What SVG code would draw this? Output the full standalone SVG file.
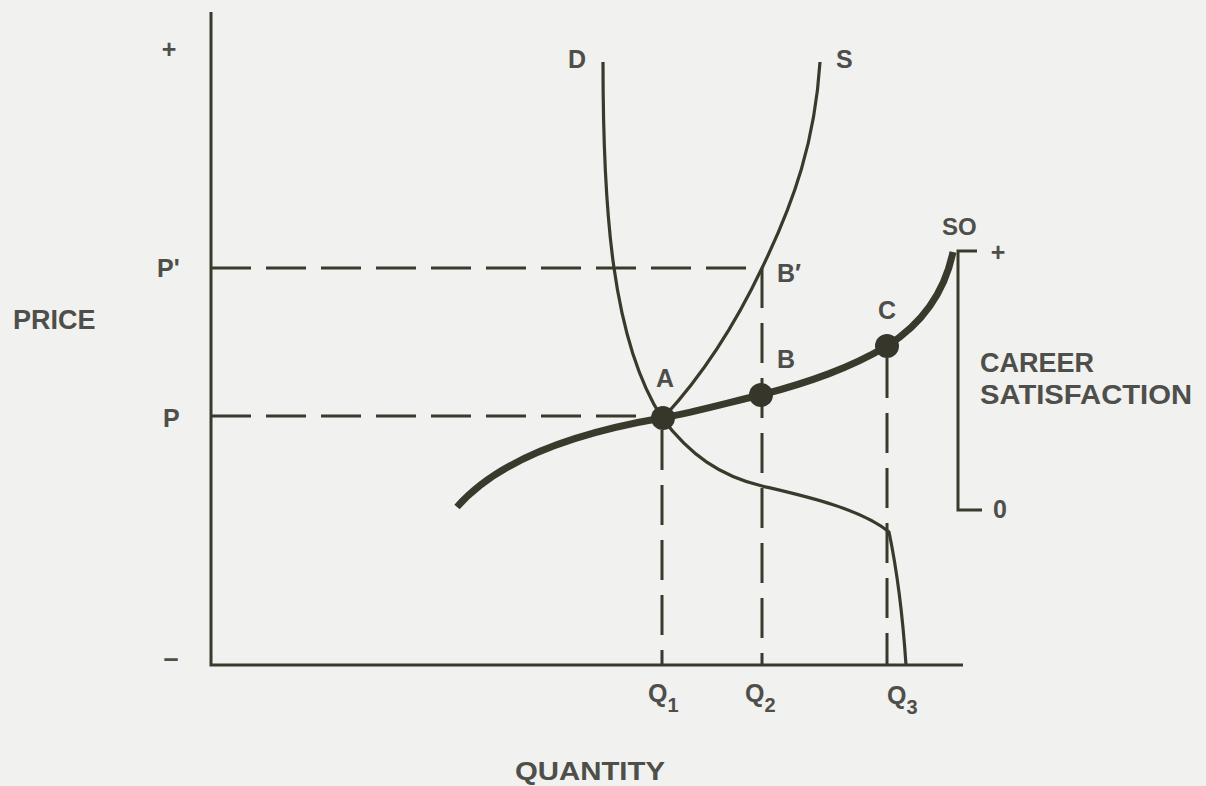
<svg xmlns="http://www.w3.org/2000/svg" width="1206" height="786" viewBox="0 0 1206 786">
<style>
.t{font-family:"Liberation Sans",Arial,sans-serif;font-weight:bold;fill:#4e4e4a}
.ln{fill:none;stroke:#3a3a2c;stroke-linecap:butt}
.dash{fill:none;stroke:#3a3a2c;stroke-width:3;stroke-dasharray:40 15}
.thin{fill:none;stroke:#3a3a2c;stroke-width:3.2;stroke-linejoin:round}
.dot{fill:#36362a}
</style>
<rect width="1206" height="786" fill="#f1f1ef"/>
<g id="axes">
<path class="ln" stroke-width="3" d="M211,12 V665 H963"/>
<text class="t" x="169" y="58" font-size="25" text-anchor="middle">+</text>
<text class="t" x="171" y="667" font-size="27" text-anchor="middle">–</text>
<text class="t" x="13" y="329" font-size="27">PRICE</text>
<text class="t" x="515" y="780" font-size="26" textLength="150" lengthAdjust="spacingAndGlyphs">QUANTITY</text>
<text class="t" x="157" y="277" font-size="25">P'</text>
<text class="t" x="163" y="427" font-size="25">P</text>
<text class="t" x="648" y="702" font-size="25" font-weight="normal">Q<tspan font-size="20" dy="10">1</tspan></text>
<text class="t" x="745" y="702" font-size="25" font-weight="normal">Q<tspan font-size="20" dy="10">2</tspan></text>
<text class="t" x="887" y="704" font-size="25" font-weight="normal">Q<tspan font-size="20" dy="10">3</tspan></text>
</g>
<g id="connectors">
<path class="dash" d="M211,268 H762"/>
<path class="dash" d="M211,416 H645"/>
<path class="dash" d="M662,430 V665"/>
<path class="dash" d="M762,268 V665"/>
<path class="dash" d="M887,358 V665"/>
</g>
<g id="demand">
<path class="thin" d="M603,62 C603,210 612,340 662,418 C690,455 720,476 762,486 C800,495 860,508 889,532 C898,575 903,620 906,665"/>
<text class="t" x="568" y="68" font-size="25">D</text>
</g>
<g id="supply">
<path class="thin" d="M820,62 C815,140 795,200 762,268 C735,325 700,378 664,417"/>
<text class="t" x="836" y="68" font-size="25">S</text>
</g>
<g id="satisfaction-curve">
<path class="ln" stroke-width="7" stroke-linecap="round" d="M457,507 C500,458 580,432 662,418 C700,411 730,402 761,395 C810,382 850,368 887,346 C925,322 945,290 953,252"/>
<text class="t" x="942" y="235" font-size="24">SO</text>
</g>
<g id="point-A">
<circle class="dot" cx="663" cy="418" r="12"/>
<text class="t" x="656" y="387" font-size="25" font-weight="normal">A</text>
</g>
<g id="point-B">
<circle class="dot" cx="761" cy="395" r="12"/>
<text class="t" x="777" y="368" font-size="25" font-weight="normal">B</text>
</g>
<g id="point-Bprime">
<text class="t" x="777" y="282" font-size="25" font-weight="normal">B′</text>
</g>
<g id="point-C">
<circle class="dot" cx="887" cy="346" r="12"/>
<text class="t" x="878" y="319" font-size="25" font-weight="normal">C</text>
</g>
<g id="satisfaction-scale">
<path class="ln" stroke-width="3" d="M977,251 H958 V510 H982"/>
<text class="t" x="998" y="261" font-size="25" text-anchor="middle">+</text>
<text class="t" x="993" y="518" font-size="25">0</text>
<text class="t" x="980" y="372" font-size="27">CAREER</text>
<text class="t" x="980" y="404" font-size="27" textLength="212" lengthAdjust="spacingAndGlyphs">SATISFACTION</text>
</g>
</svg>
